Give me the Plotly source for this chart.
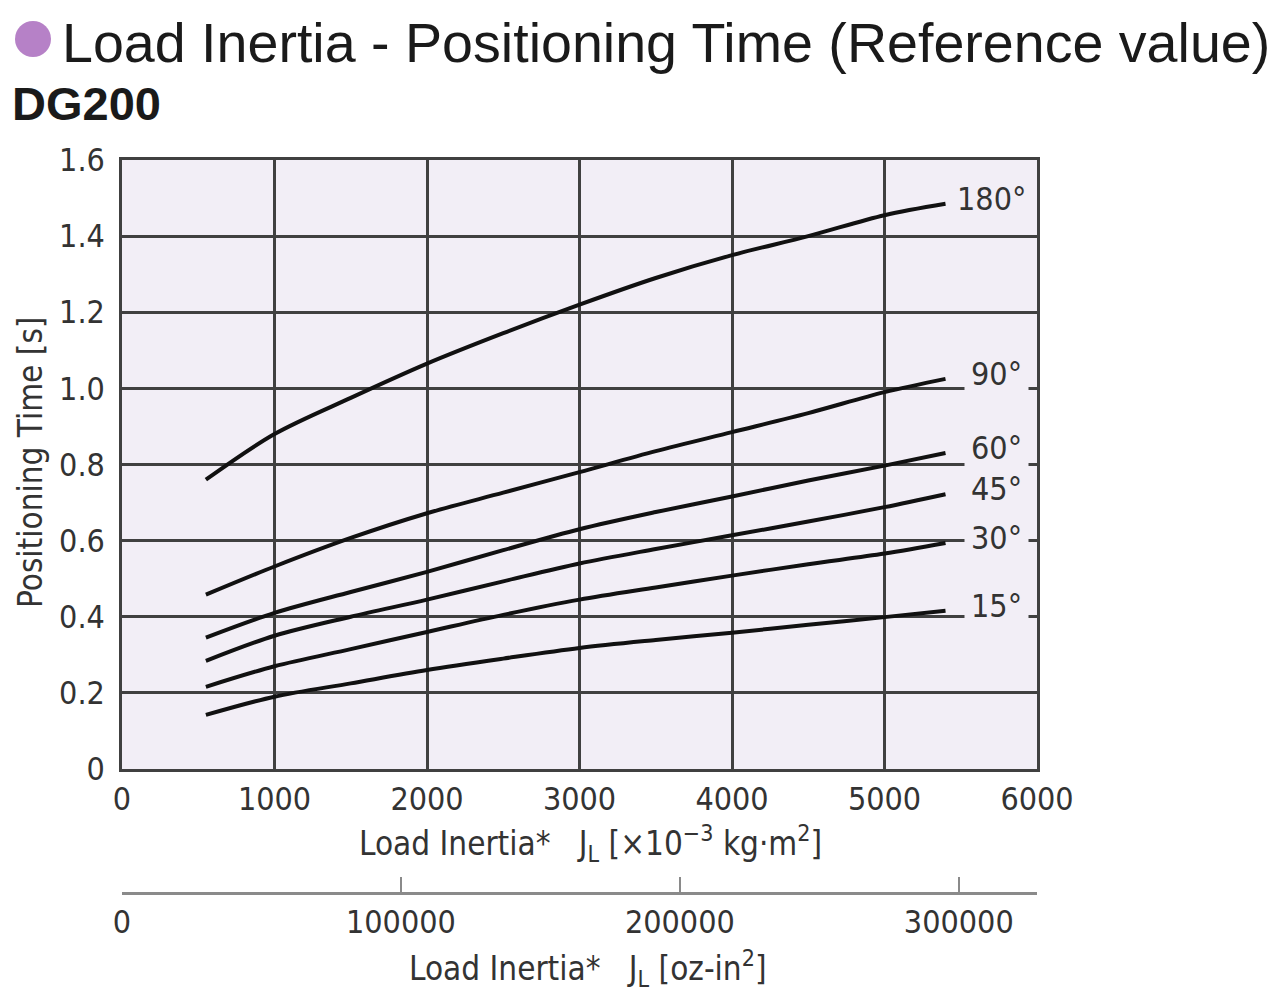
import plotly.graph_objects as go

# ---- data ----
load_inertia = [550, 1000, 1500, 2000, 2500, 3000, 3500, 4000, 4500, 5000, 5400]
t_180 = [0.76, 0.88, 0.975, 1.065, 1.145, 1.22, 1.29, 1.35, 1.40, 1.455, 1.485]
t_90 = [0.458, 0.532, 0.607, 0.672, 0.726, 0.78, 0.835, 0.885, 0.935, 0.99, 1.025]
t_60 = [0.345, 0.41, 0.465, 0.518, 0.575, 0.63, 0.675, 0.716, 0.758, 0.797, 0.83]
t_45 = [0.284, 0.35, 0.40, 0.445, 0.493, 0.54, 0.578, 0.614, 0.65, 0.688, 0.722]
t_30 = [0.216, 0.27, 0.315, 0.36, 0.405, 0.445, 0.477, 0.508, 0.538, 0.566, 0.594]
t_15 = [0.142, 0.19, 0.225, 0.26, 0.29, 0.318, 0.339, 0.358, 0.379, 0.399, 0.416]
series = [t_180, t_90, t_60, t_45, t_30, t_15]
angle_labels = ["180°", "90°", "60°", "45°", "30°", "15°"]

x_ticks = [0, 1000, 2000, 3000, 4000, 5000, 6000]
x_ticktext = ["0", "1000", "2000", "3000", "4000", "5000", "6000"]
y_ticks = [0, 0.2, 0.4, 0.6, 0.8, 1.0, 1.2, 1.4, 1.6]
y_ticktext = ["0", "0.2", "0.4", "0.6", "0.8", "1.0", "1.2", "1.4", "1.6"]
oz_ticks = [0, 100000, 200000, 300000]
oz_ticktext = ["0", "100000", "200000", "300000"]
OZIN2_PER_1E3_KGM2 = 54.675  # 1e-3 kg·m² in oz-in²

title_text = "Load Inertia - Positioning Time (Reference value)"
subtitle_text = "DG200"
y_title = "Positioning Time [s]"
x_title = "Load Inertia*   J<sub>L</sub> [×10<sup>−3</sup> kg·m<sup>2</sup>]"
x2_title = "Load Inertia*   J<sub>L</sub> [oz-in<sup>2</sup>]"

# ---- layout geometry (target screen px; the page body adds an 8px offset) ----
OFF = 8
W, H = 1280 - 2 * OFF, 999 - 2 * OFF
PLOT_L, PLOT_R, PLOT_T, PLOT_B = 122, 1037, 160, 769
ML = PLOT_L - OFF
MR = W - (PLOT_R - OFF)
MT = PLOT_T - OFF
MB = 42
PW = W - ML - MR
PH = H - MT - MB
X2_LINE_PX = 893


def px_x(tx):
    return (tx - OFF - ML) / PW


def px_y(ty):
    return (H - MB - (ty - OFF)) / PH


COND = "DejaVu Sans Condensed, Liberation Sans Narrow, Arial Narrow, sans-serif"
SANS = "Liberation Sans, Arial, Helvetica, sans-serif"
BG = "#f2eef6"
GRID = "#404040"
TXT = "#333333"
TICK_SIZE = 32

fig = go.Figure()
for ys in series:
    fig.add_trace(go.Scatter(
        x=load_inertia, y=ys, mode="lines",
        line=dict(color="#111111", width=4, shape="spline", smoothing=0.9),
        showlegend=False, hoverinfo="skip"))

# empty trace to materialize the secondary (oz-in²) axis
fig.add_trace(go.Scatter(x=[], y=[], xaxis="x2", yaxis="y", showlegend=False))

x_max = x_ticks[-1]
fig.update_layout(
    width=W, height=H,
    margin=dict(l=ML, r=MR, t=MT, b=MB),
    paper_bgcolor="white",
    plot_bgcolor=BG,
    font=dict(family=COND, color=TXT, size=TICK_SIZE),
    xaxis=dict(
        range=[0, x_max], tickvals=x_ticks, ticktext=x_ticktext,
        showgrid=True, gridcolor=GRID, gridwidth=2.5,
        showline=True, linecolor=GRID, linewidth=2.5, mirror=True,
        ticks="", zeroline=False, tickfont=dict(size=TICK_SIZE, color=TXT),
        ticklabelstandoff=0, automargin=False,
    ),
    yaxis=dict(
        domain=[px_y(PLOT_B), 1],
        range=[0, 1.6], tickvals=y_ticks, ticktext=y_ticktext,
        showgrid=True, gridcolor=GRID, gridwidth=2.5,
        showline=True, linecolor=GRID, linewidth=2.5, mirror=True,
        ticks="", zeroline=False, tickfont=dict(size=TICK_SIZE, color=TXT),
        ticklabelstandoff=8, automargin=False,
    ),
    xaxis2=dict(
        overlaying="x", anchor="free", position=px_y(X2_LINE_PX), side="bottom",
        range=[0, x_max * OZIN2_PER_1E3_KGM2],
        tickvals=oz_ticks, ticktext=oz_ticktext,
        showgrid=False, zeroline=False,
        showline=True, linecolor="#8a8a8a", linewidth=2.5,
        ticks="inside", ticklen=15, tickwidth=2, tickcolor="#8a8a8a",
        tickfont=dict(size=TICK_SIZE, color=TXT), ticklabelstandoff=0,
        automargin=False,
    ),
)

ann = []
# curve labels (masked background where they sit on a grid line)
for lab, ys in zip(angle_labels, series):
    on_grid = lab in ("90°", "60°", "30°", "15°")
    left_px = 950 if lab == "180°" else 964
    ann.append(dict(
        x=(left_px - PLOT_L) / (PLOT_R - PLOT_L) * x_max, y=ys[-1],
        xref="x", yref="y",
        text=lab, showarrow=False, xanchor="left", yanchor="middle",
        yshift=5, bgcolor=BG if on_grid else "rgba(0,0,0,0)", borderpad=6,
        font=dict(family=COND, size=TICK_SIZE, color=TXT)))

# title & subtitle
ann.append(dict(x=px_x(60), y=px_y(43), xref="paper", yref="paper",
                text=title_text, showarrow=False, xanchor="left", yanchor="middle",
                font=dict(family=SANS, size=55.6, color="#1a1a1a")))
ann.append(dict(x=px_x(10), y=px_y(104), xref="paper", yref="paper",
                text="<b>" + subtitle_text + "</b>", showarrow=False,
                xanchor="left", yanchor="middle",
                font=dict(family=SANS, size=47, color="#1a1a1a")))
# axis titles
ann.append(dict(x=px_x(31), y=px_y(463), xref="paper", yref="paper",
                text=y_title, textangle=-90, showarrow=False,
                xanchor="center", yanchor="middle",
                font=dict(family=COND, size=33, color=TXT)))
ann.append(dict(x=px_x(590), y=px_y(843), xref="paper", yref="paper",
                text=x_title, showarrow=False, xanchor="center", yanchor="middle",
                font=dict(family=COND, size=33, color=TXT)))
ann.append(dict(x=px_x(588), y=px_y(968), xref="paper", yref="paper",
                text=x2_title, showarrow=False, xanchor="center", yanchor="middle",
                font=dict(family=COND, size=33, color=TXT)))
fig.update_layout(annotations=ann)

# purple bullet
fig.add_shape(type="circle", xref="paper", yref="paper",
              x0=px_x(15), x1=px_x(51), y0=px_y(57), y1=px_y(21),
              fillcolor="#b681c7", line=dict(width=0))

fig.write_html("out.html")
